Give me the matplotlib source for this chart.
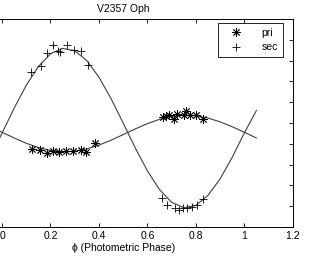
import matplotlib
matplotlib.use("Agg")
import matplotlib.pyplot as plt

plt.rcParams['font.family'] = ['Liberation Sans', 'DejaVu Sans']

# orbit curves (phase, velocity)
curve_phase = [-0.05, 0.00, 0.05, 0.10, 0.15, 0.20, 0.25, 0.30, 0.35, 0.40, 0.45, 0.50,
               0.55, 0.60, 0.65, 0.70, 0.75, 0.80, 0.85, 0.90, 0.95, 1.00, 1.05]
curve_sec = [-82.7, -24.1, 35.8, 90.9, 135.9, 166.5, 179.6, 174.0, 150.1, 110.4, 58.7, 0.1,
             -59.8, -114.9, -159.9, -190.5, -203.6, -198.0, -174.1, -134.4, -82.7, -24.1, 30.0]
curve_pri = [-8.8, -22.2, -35.9, -48.6, -58.9, -65.9, -68.9, -67.6, -62.1, -53.0, -41.2, -27.8,
             -14.1, -1.4, 8.9, 15.9, 18.9, 17.6, 12.1, 3.0, -8.8, -22.2, -35.9]

# measured points
pri_phase = [0.123, 0.157, 0.185, 0.212, 0.237, 0.266, 0.291, 0.328, 0.346, 0.382,
             0.663, 0.675, 0.689, 0.709, 0.723, 0.751, 0.758, 0.776, 0.799, 0.830]
pri_vel = [-61.3, -64.9, -72.1, -67.3, -69.0, -67.3, -67.3, -64.9, -69.0, -48.8,
           14.4, 16.8, 19.2, 9.6, 21.6, 19.2, 30.1, 19.2, 19.2, 10.8]
sec_phase = [0.120, 0.159, 0.185, 0.212, 0.232, 0.240, 0.268, 0.296, 0.327, 0.354,
             0.660, 0.682, 0.716, 0.729, 0.745, 0.762, 0.783, 0.803, 0.830]
sec_vel = [122.6, 138.2, 168.3, 187.5, 174.3, 170.7, 188.7, 176.7, 173.1, 139.4,
           -179.1, -197.1, -204.3, -208.0, -204.3, -203.1, -200.7, -195.9, -181.5]

fig = plt.figure(figsize=(3.33, 2.57), dpi=100)
ax = fig.add_axes([-0.1393, 0.1167, 1.0183, 0.809])

ax.plot(curve_phase, curve_sec, color='#404040', lw=0.8)
ax.plot(curve_phase, curve_pri, color='#404040', lw=0.8)
# asterisk like matlab '*'
ax.plot(pri_phase, pri_vel, linestyle='none', marker=(8, 2, 0), color='black',
        ms=6, mew=0.6, label='pri')
ax.plot(sec_phase, sec_vel, '+', color='black', ms=6, mew=0.6, label='sec')

ax.set_xlim(-0.2, 1.2)
ax.set_ylim(-250, 250)
ax.set_xticks([0, 0.2, 0.4, 0.6, 0.8, 1, 1.2])
ax.set_xticklabels(['0', '0.2', '0.4', '0.6', '0.8', '1', '1.2'])
ax.set_yticks(range(-250, 251, 50))
ax.tick_params(direction='in', top=True, right=True, length=3, width=0.6,
               labelsize=7.5, pad=3)
ax.tick_params(axis='y', labelleft=False)
for s in ax.spines.values():
    s.set_linewidth(0.7)

ax.set_title('V2357 Oph', fontsize=7.5, pad=5)
ax.set_xlabel('\u03d5 (Photometric Phase)', fontsize=7.5, labelpad=1)

leg = ax.legend(loc='upper right', bbox_to_anchor=(0.9705, 0.981), borderaxespad=0,
                fontsize=7.5, frameon=True, fancybox=False, edgecolor='black',
                framealpha=1, handlelength=2.4, handletextpad=1.3, borderpad=0.45,
                labelspacing=0.45)
leg.get_frame().set_linewidth(0.6)

fig.savefig('out.png', dpi=100)
